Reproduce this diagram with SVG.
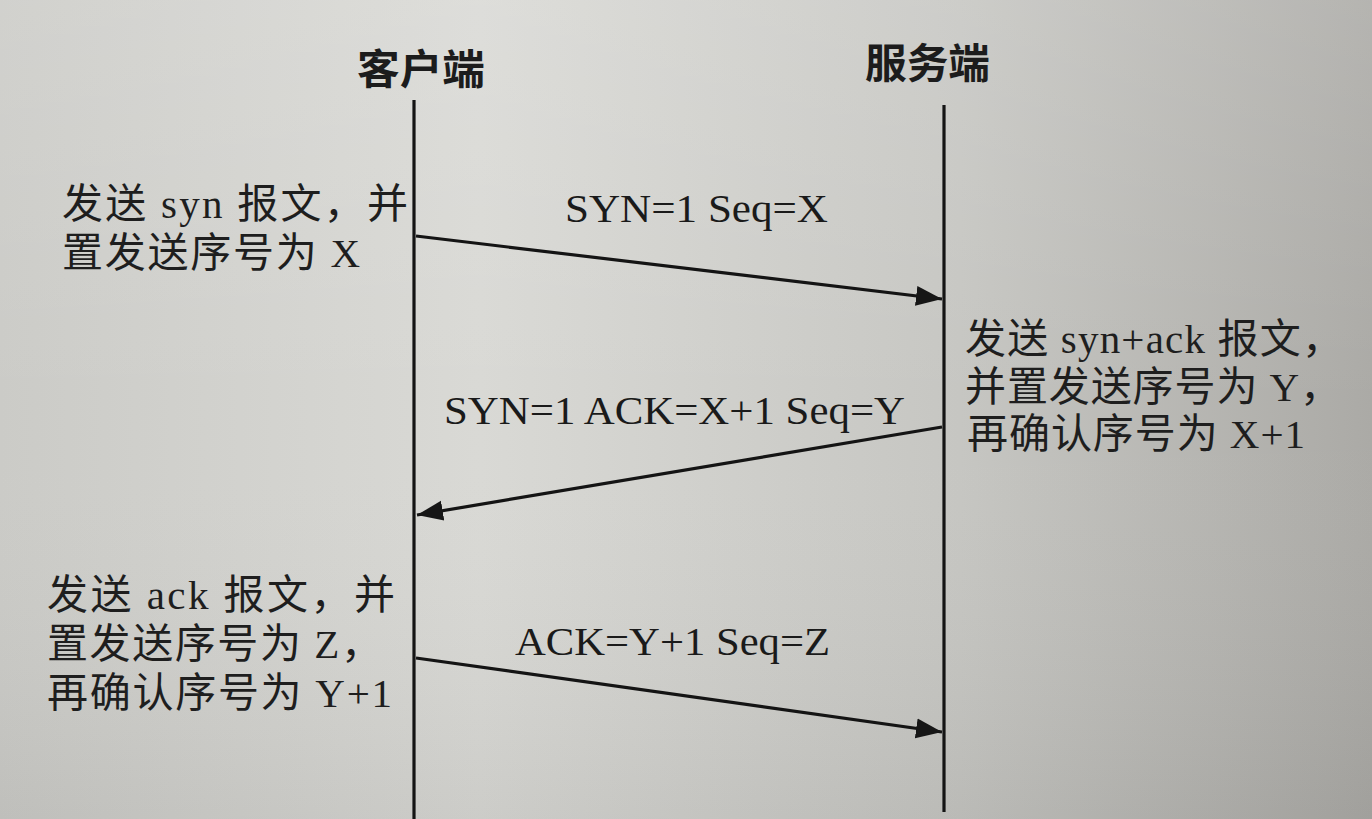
<svg xmlns="http://www.w3.org/2000/svg" width="1372" height="819" viewBox="0 0 1372 819">
<defs>
<linearGradient id="bgH" x1="0" y1="0" x2="1" y2="0">
<stop offset="0" stop-color="#cbcbc7"/>
<stop offset="0.35" stop-color="#d9d9d5"/>
<stop offset="0.7" stop-color="#c6c6c2"/>
<stop offset="1" stop-color="#abaaa6"/>
</linearGradient>
<linearGradient id="bgV" x1="0" y1="0" x2="0" y2="1">
<stop offset="0" stop-color="#ffffff" stop-opacity="0.12"/>
<stop offset="0.5" stop-color="#ffffff" stop-opacity="0"/>
<stop offset="1" stop-color="#000000" stop-opacity="0.06"/>
</linearGradient>
<marker id="arr" markerUnits="userSpaceOnUse" markerWidth="28" markerHeight="24" refX="26" refY="12" orient="auto">
<path d="M0,2 L26,12 L0,22 Z" fill="#161616"/>
</marker>
<style>
.hdr{font-family:"Noto Sans CJK SC","Noto Sans",sans-serif;font-size:41px;font-weight:bold;fill:#1c1c1c}
.txt{font-family:"Liberation Serif","Noto Sans CJK SC",serif;font-size:41px;fill:#1e1e1e}
.lbl{font-family:"Liberation Serif","Noto Sans CJK SC",serif;font-size:41px;fill:#1a1a1a}
.life{stroke:#141414;stroke-width:3.2;fill:none}
.msg{stroke:#141414;stroke-width:3.2;fill:none;marker-end:url(#arr)}
</style>
</defs>
<rect width="1372" height="819" fill="url(#bgH)"/>
<rect width="1372" height="819" fill="url(#bgV)"/>

<g id="client">
<text class="hdr" x="357" y="84" textLength="128" lengthAdjust="spacingAndGlyphs">客户端</text>
<line class="life" x1="414" y1="100" x2="414" y2="819"/>
</g>
<g id="server">
<text class="hdr" x="865" y="78" textLength="125" lengthAdjust="spacingAndGlyphs">服务端</text>
<line class="life" x1="944" y1="105" x2="944" y2="812"/>
</g>

<g id="note-client-syn">
<text class="txt" x="62" y="218" textLength="346" lengthAdjust="spacing">发送 syn 报文，并</text>
<text class="txt" x="62" y="267" textLength="298" lengthAdjust="spacing">置发送序号为 X</text>
</g>
<g id="note-server-synack">
<text class="txt" x="965" y="353" textLength="378" lengthAdjust="spacing">发送 syn+ack 报文，</text>
<text class="txt" x="965" y="401" textLength="376" lengthAdjust="spacing">并置发送序号为 Y，</text>
<text class="txt" x="967" y="448" textLength="338" lengthAdjust="spacing">再确认序号为 X+1</text>
</g>
<g id="note-client-ack">
<text class="txt" x="47" y="609" textLength="348" lengthAdjust="spacing">发送 ack 报文，并</text>
<text class="txt" x="47" y="658" textLength="335" lengthAdjust="spacing">置发送序号为 Z，</text>
<text class="txt" x="47" y="707" textLength="345" lengthAdjust="spacing">再确认序号为 Y+1</text>
</g>

<g id="connectors">
<line class="msg" x1="416" y1="236" x2="942" y2="299"/>
<text class="lbl" x="565" y="222" textLength="263" lengthAdjust="spacingAndGlyphs">SYN=1 Seq=X</text>
<line class="msg" x1="942" y1="427" x2="417" y2="515"/>
<text class="lbl" x="444" y="424" textLength="461" lengthAdjust="spacingAndGlyphs">SYN=1 ACK=X+1 Seq=Y</text>
<line class="msg" x1="416" y1="658" x2="942" y2="732"/>
<text class="lbl" x="515" y="655" textLength="315" lengthAdjust="spacingAndGlyphs">ACK=Y+1 Seq=Z</text>
</g>
</svg>
